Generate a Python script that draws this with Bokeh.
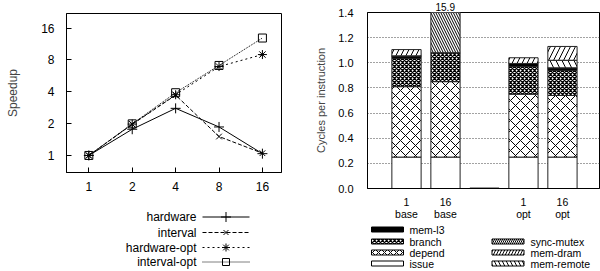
from bokeh.plotting import figure
from bokeh.models import FixedTicker, NumeralTickFormatter, Range1d, Title
from bokeh.layouts import row, column
from bokeh.embed import file_html
from bokeh.resources import INLINE
from bokeh.core.properties import value

FONT = "Liberation Sans"

# ---------------- data: speedup (left) ----------------
threads = [1, 2, 4, 8, 16]
speedup_ticks = [1, 2, 4, 8, 16]
hardware = [1.0, 1.77, 2.79, 1.86, 1.04]
interval = [1.0, 1.97, 3.72, 1.51, 1.05]
hardware_opt = [1.0, 1.98, 3.75, 6.93, 9.0]
interval_opt = [1.0, 1.99, 3.92, 7.1, 12.9]
series_names = ["hardware", "interval", "hardware-opt", "interval-opt"]

# ---------------- data: CPI stacks (right) ----------------
bar_x = [1, 2, 4, 5]
bar_labels = ["1\nbase", "16\nbase", "1\nopt", "16\nopt"]
gap_x = [3]
gap_top = [0.0]
issue = [0.25, 0.25, 0.25, 0.25]
depend = [0.56, 0.60, 0.50, 0.49]
branch = [0.225, 0.23, 0.22, 0.20]
mem_l3 = [0.02, 0.0, 0.025, 0.02]
sync_mutex = [0.0, 14.82, 0.0, 0.0]
mem_remote = [0.0, 0.0, 0.0, 0.06]
mem_dram = [0.05, 0.0, 0.045, 0.11]
cpi_ticks = [0.0, 0.2, 0.4, 0.6, 0.8, 1.0, 1.2, 1.4]

# ---------------- styles ----------------
line_dashes = ["solid", "4 2", "2 3", "1 1"]
markers = ["cross", "x", "asterisk", "square"]
msizes = [10, 8, 9, 8]
legend_msizes = [10, 7, 8, 7]

stack_keys = ["issue", "depend", "branch", "mem_l3", "sync_mutex", "mem_remote", "mem_dram"]
stack_names = ["issue", "depend", "branch", "mem-l3", "sync-mutex", "mem-remote", "mem-dram"]
stack_fill = ["white", "white", "white", "black", "white", "white", "white"]
stack_hatch = [" ", "diagonal_cross", "diagonal_cross", " ", "left_diagonal_line",
               "left_diagonal_line", "right_diagonal_line"]
stack_hscale = [10, 10, 4, 10, 5, 12, 10]
legend_hscale = [10, 6, 4, 10, 4, 8, 6]
stack_hweight = [1, 1, 1.3, 1, 1, 1, 1]

# ================= left plot =================
left = figure(width=300, height=200, x_axis_type="log", y_axis_type="log",
              x_range=Range1d(0.7, 21.7), y_range=Range1d(0.69, 22),
              output_backend="svg", toolbar_location=None,
              min_border_left=66, min_border_right=19, min_border_top=13, min_border_bottom=28)
left.grid.visible = False
left.outline_line_color = "black"
for ax in (left.xaxis[0], left.yaxis[0]):
    ax.major_tick_in = 5
    ax.major_tick_out = 0
    ax.minor_tick_line_color = None
    ax.axis_line_color = "black"
    ax.major_tick_line_color = "black"
    ax.major_label_text_font = FONT
    ax.major_label_text_font_size = "12px"
    ax.major_label_text_color = "black"
    ax.formatter = NumeralTickFormatter(format="0")
left.xaxis.ticker = FixedTicker(ticks=threads)
left.yaxis.ticker = FixedTicker(ticks=speedup_ticks)
left.xaxis.major_label_standoff = 9
left.yaxis.major_label_standoff = 12
left.yaxis.axis_label = "Speedup"
left.yaxis.axis_label_text_font = FONT
left.yaxis.axis_label_text_font_size = "12px"
left.yaxis.axis_label_text_font_style = "normal"
left.yaxis.axis_label_standoff = 18

series_vals = [hardware, interval, hardware_opt, interval_opt]
for vals, dash, mk, sz in zip(series_vals, line_dashes, markers, msizes):
    left.line(threads, vals, line_color="black", line_width=1, line_dash=dash)
    left.scatter(threads, vals, marker=mk, size=sz, fill_color=None,
                 line_color="black", line_width=1)

# left key (gnuplot style). Its frame is aligned by the column with the plot frame
# (page x 66..281), so it uses page pixel coordinates.
lleg = figure(width=300, height=71, x_range=Range1d(66, 281), y_range=Range1d(271, 200),
              output_backend="svg", toolbar_location=None,
              x_axis_location=None, y_axis_location=None, min_border=0)
lleg.grid.visible = False
lleg.outline_line_color = None
rows_l = [216.5, 232, 247, 261.5]
lleg.text(x=[196] * 4, y=rows_l, text=series_names, text_font=value(FONT),
          text_font_size="12px", text_align="right", text_baseline="middle", text_color="black")
for ry, dash, mk, sz in zip(rows_l, line_dashes, markers, legend_msizes):
    lleg.line([202, 249], [ry, ry], line_color="black", line_width=1, line_dash=dash)
    lleg.scatter([225.5], [ry], marker=mk, size=sz, fill_color=None, line_color="black")

# ================= right plot =================
right = figure(width=300, height=222, x_range=Range1d(0, 5.95), y_range=Range1d(0, 1.4),
               output_backend="svg", toolbar_location=None,
               min_border_left=67, min_border_right=1, min_border_top=12, min_border_bottom=30)
right.xgrid.visible = False
right.ygrid.ticker = FixedTicker(ticks=[0.2, 0.4, 0.6, 0.8, 1.0, 1.2])
right.ygrid.grid_line_color = "#444444"
right.ygrid.grid_line_dash = "1 2"
right.ygrid.grid_line_width = 1
right.outline_line_color = "black"
right.yaxis.ticker = FixedTicker(ticks=cpi_ticks)
right.yaxis.formatter = NumeralTickFormatter(format="0.0")
right.xaxis.ticker = FixedTicker(ticks=bar_x)
right.xaxis.major_label_overrides = {k: v for k, v in zip(bar_x, bar_labels)}
for ax in (right.xaxis[0], right.yaxis[0]):
    ax.major_tick_in = 0
    ax.major_tick_out = 0
    ax.minor_tick_line_color = None
    ax.axis_line_color = "black"
    ax.major_label_text_font = FONT
    ax.major_label_text_font_size = "11px"
    ax.major_label_text_color = "black"
right.xaxis.major_label_text_font_size = "10.5px"
right.xaxis.major_label_text_line_height = 1.0
right.yaxis.major_label_standoff = 14
right.xaxis.major_label_standoff = 7
right.yaxis.axis_label = "Cycles per instruction"
right.yaxis.axis_label_text_font = FONT
right.yaxis.axis_label_text_font_size = "11px"
right.yaxis.axis_label_text_font_style = "normal"
right.yaxis.axis_label_standoff = 8

src = dict(x=bar_x, issue=issue, depend=depend, branch=branch, mem_l3=mem_l3,
           sync_mutex=sync_mutex, mem_remote=mem_remote, mem_dram=mem_dram)
right.vbar_stack(stack_keys, x="x", width=0.75, source=src,
                 fill_color=stack_fill, line_color="#222222", line_width=1,
                 hatch_pattern=stack_hatch, hatch_color="black",
                 hatch_scale=stack_hscale, hatch_weight=stack_hweight)
right.vbar(x=gap_x, top=gap_top, bottom=0, width=0.75, line_color="#999999", line_width=3,
           fill_color=None)

tot2 = issue[1] + depend[1] + branch[1] + mem_l3[1] + sync_mutex[1] + mem_remote[1] + mem_dram[1]
right.add_layout(Title(text=f"{tot2:.1f}", align="left", offset=68, standoff=0,
                       vertical_align="top",
                       text_font=FONT, text_font_size="10px", text_font_style="normal",
                       text_color="black"), "above")

# right key: frame aligned with the plot frame (page x 367..599), page pixel coordinates
rleg = figure(width=300, height=49, x_range=Range1d(367, 599), y_range=Range1d(271, 222),
              output_backend="svg", toolbar_location=None,
              x_axis_location=None, y_axis_location=None, min_border=0)
rleg.grid.visible = False
rleg.outline_line_color = None
rows_r = [229, 241, 252, 263]
leg_entries = [  # (stack index, column, row)
    (3, 0, 0), (2, 0, 1), (1, 0, 2), (0, 0, 3),
    (4, 1, 1), (6, 1, 2), (5, 1, 3),
]
col_sw = [387, 507.5]
col_tx = [409, 530]
for si, c, r in leg_entries:
    rleg.rect(x=[col_sw[c]], y=[rows_r[r]], width=32, height=5,
              fill_color=stack_fill[si], line_color="black", line_width=1,
              hatch_pattern=stack_hatch[si], hatch_color="black",
              hatch_scale=legend_hscale[si], hatch_weight=stack_hweight[si])
    rleg.text(x=[col_tx[c]], y=[rows_r[r]], text=[stack_names[si]], text_font=value(FONT),
              text_font_size="10.5px", text_align="left", text_baseline="middle",
              text_color="black")

layout = row(column(left, lleg), column(right, rleg))
open("out.html", "w").write(file_html(layout, INLINE))
